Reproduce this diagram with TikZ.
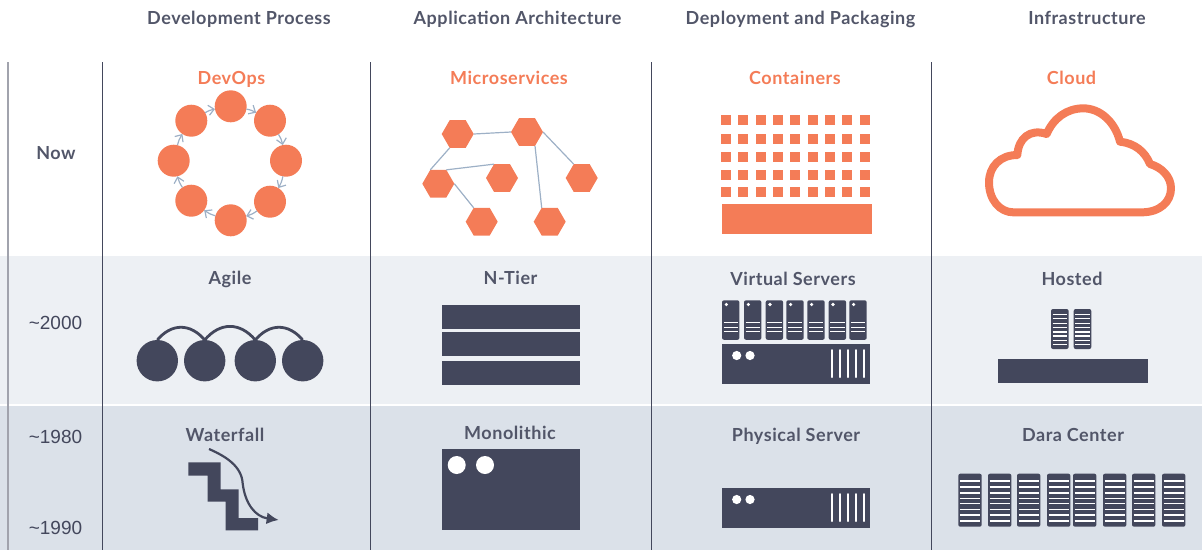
\documentclass[tikz,border=0pt]{standalone}
\usepackage{fontspec}
\setmainfont{Lato}[LetterSpace=3]
\newfontfamily\erafont{Liberation Sans}
\usetikzlibrary{arrows.meta,shapes.geometric}
\definecolor{orangec}{HTML}{F47C57}
\definecolor{darkc}{HTML}{43475C}
\definecolor{edgec}{HTML}{9DB0C6}
\definecolor{bandlight}{HTML}{EDF0F4}
\definecolor{banddark}{HTML}{DBE1E9}
\tikzset{
  head/.style={font=\fontsize{18}{20}\selectfont\bfseries, text=darkc!92!white, inner sep=0pt, anchor=base},
  title/.style={head, text=orangec},
  era/.style={font=\erafont\fontsize{19}{20}\selectfont, text=darkc, inner sep=0pt, anchor=base},
  dot/.style={circle, fill=orangec, minimum size=32pt, inner sep=0pt, outer sep=0pt},
  hexa/.style={regular polygon, regular polygon sides=6, fill=orangec, minimum size=32pt, inner sep=0pt, outer sep=0pt},
  ball/.style={circle, fill=darkc, minimum size=41.4pt, inner sep=0pt, outer sep=0pt},
  loopedge/.style={edgec, line width=1.2pt, -{Straight Barb[length=5.5pt,width=10pt]}},
  graphedge/.style={edgec, line width=1.2pt},
}
% big server box, top edge at #1
\newcommand{\bigserver}[1]{
  \fill[darkc] (722,#1) rectangle (870,#1+40);
  \fill[white] (736.7,#1+11.5) circle (4.6);
  \fill[white] (750,#1+11.5) circle (4.6);
  \foreach \xbar in {832.3,840.3,848.3,856.3,863.7}
    \draw[white, line width=2pt, line cap=round] (\xbar,#1+6) -- (\xbar,#1+33);
}
% rack: left edge, top edge, width, height, list of slot offsets
\newcommand{\rack}[5]{
  \fill[darkc, rounded corners=2pt] (#1,#2) rectangle ++(#3,#4);
  \foreach \yslot in {#5}
    \draw[white, line width=1.3pt] (#1+1.6,#2+\yslot) -- (#1+#3-1.6,#2+\yslot);
}
\begin{document}
\begin{tikzpicture}[x=1pt,y=-1pt]
\useasboundingbox (0,0) rectangle (1202,550);

% bands
\fill[bandlight] (0,256) rectangle (1202,404);
\fill[banddark] (0,406) rectangle (1202,550);
\draw[darkc!50, line width=2pt] (8,62) -- (8,550);
\foreach \xl in {102.5,370.5,651.5,931.5}
  \draw[darkc, line width=1pt] (\xl,62) -- (\xl,550);

% column and row labels
\node[head] (h1) at (239,24) {Development Process};
\node[head] (h2) at (517.5,24) {Application Architecture};
\node[head] (h3) at (800.5,24) {Deployment and Packaging};
\node[head] (h4) at (1087,24) {Infrastructure};
\node[head] (now) at (56,159) {Now};
\node[era] (e2000) at (55.5,329) {\textasciitilde 2000};
\node[era] (e1980) at (55.5,443.5) {\textasciitilde 1980};
\node[era] (e1990) at (55.5,534) {\textasciitilde 1990};

\node[title] (devops) at (231.5,84) {DevOps};
\node[title] (micro) at (509,84) {Microservices};
\node[title] (cont) at (795,84) {Containers};
\node[title] (cloud) at (1071.5,84) {Cloud};
\node[head] (agile) at (230,284) {Agile};
\node[head] (ntier) at (510.5,284) {N-Tier};
\node[head] (virt) at (793,285) {Virtual Servers};
\node[head] (hosted) at (1072,285) {Hosted};
\node[head] (water) at (225,441) {Waterfall};
\node[head] (mono) at (510,439) {Monolithic};
\node[head] (phys) at (796,441) {Physical Server};
\node[head] (dara) at (1073,441) {Dara Center};

% devops ring
\node[dot] (d1) at (230.7,106.3) {};
\node[dot] (d2) at (270,120.7) {};
\node[dot] (d3) at (286,160.7) {};
\node[dot] (d4) at (270,201.7) {};
\node[dot] (d5) at (230.7,220.3) {};
\node[dot] (d6) at (191.3,200.7) {};
\node[dot] (d7) at (173.7,160.7) {};
\node[dot] (d8) at (191.3,120.7) {};
\foreach \a/\b in {d1/d2,d2/d3,d3/d4,d4/d5,d5/d6,d6/d7,d7/d8,d8/d1}
  \draw[loopedge] (\a) to[bend left=10] (\b);

% microservices
\node[hexa] (m1) at (457.7,134) {};
\node[hexa] (m2) at (527,132) {};
\node[hexa] (m3) at (438.3,183.7) {};
\node[hexa] (m4) at (502,178) {};
\node[hexa] (m5) at (581.7,178) {};
\node[hexa] (m6) at (481.7,221.7) {};
\node[hexa] (m7) at (549.7,221.7) {};
\draw[graphedge] (m1.0) -- (m2.180);
\draw[graphedge] (m1.240) -- (m3.120);
\draw[graphedge] (m2.0) -- (m5.120);
\draw[graphedge] (m2.300) -- (m7.120);
\draw[graphedge] (m3.60) -- (m4.120);
\draw[graphedge] (m3.0) -- (m6.120);

% containers
\foreach \yc in {115,134,152,170,187}
  \foreach \xc in {721,738,756,773,790,808,825,842,860}
    \fill[orangec] (\xc,\yc) rectangle ++(10,10);
\fill[orangec] (722,204) rectangle (872,234);

% cloud
\begin{scope}[shift={(970,90)},scale=1/3]
\draw[orangec, line width=8pt, line join=round]
  (130,367) -- (515,367) .. controls (570,367) and (603,335) .. (603,295)
  .. controls (603,260) and (575,232) .. (540,222)
  .. controls (525,185) and (495,160) .. (450,155)
  .. controls (435,95) and (390,55) .. (340,55)
  .. controls (290,55) and (250,85) .. (230,132)
  .. controls (180,115) and (145,145) .. (142,195)
  .. controls (90,195) and (57,230) .. (57,277)
  .. controls (57,330) and (90,367) .. (130,367) -- cycle;
\end{scope}

% agile
\node[ball] (a1) at (157.3,360.7) {};
\node[ball] (a2) at (204.7,360.7) {};
\node[ball] (a3) at (255.3,360.7) {};
\node[ball] (a4) at (302.7,360.7) {};
\foreach \a/\b in {a1/a2,a2/a3,a3/a4}
  \draw[darkc, line width=2.8pt] (\a.north) to[out=50,in=130,looseness=1.2] (\b.north);

% n-tier
\foreach \yt in {305,332,361}
  \fill[darkc] (442,\yt) rectangle (580,\yt+24);

% virtual servers
\foreach \xs in {722,744,765.7,786.3,807.3,828.7,849.3} {
  \rack{\xs}{300.3}{17.4}{39.5}{22.4,27,31.4}
  \fill[white] (\xs+4.3,304.5) circle (1.8);
}
\bigserver{344}

% hosted
\foreach \xs in {1051,1073.7} {
  \rack{\xs}{309}{17.6}{40}{5.3,9.7,14.3,18.7,23,27,31.3,35.7}
}
\fill[darkc] (998,359) rectangle (1148,383);

% waterfall
\begin{scope}[shift={(130,320)},scale=1/3]
\fill[darkc] (175,427) -- (272,427) -- (272,508) -- (326,508) -- (326,594) -- (384,594)
  -- (384,631) -- (287,631) -- (287,545) -- (233,545) -- (233,467) -- (175,467) -- cycle;
\coordinate (wfstart) at (237,387);
\coordinate (wfend) at (446,600);
\draw[darkc, line width=2.2pt, -{Latex[length=12pt,width=12pt]}]
  (wfstart) .. controls (290,410) and (335,440) .. (338,490)
  .. controls (345,550) and (375,590) .. (wfend);
\end{scope}

% monolithic
\fill[darkc] (442,449) rectangle (580,530);
\fill[white] (456.7,465) circle (9);
\fill[white] (485,465) circle (9);

% physical server
\bigserver{488}

% data center
\foreach \xs in {958.3,988,1017,1047,1073,1103,1132,1162} {
  \rack{\xs}{473.7}{23.4}{53}{7.3,13.3,19.3,24.6,30,36,41.3,47.3}
}
\end{tikzpicture}
\end{document}
